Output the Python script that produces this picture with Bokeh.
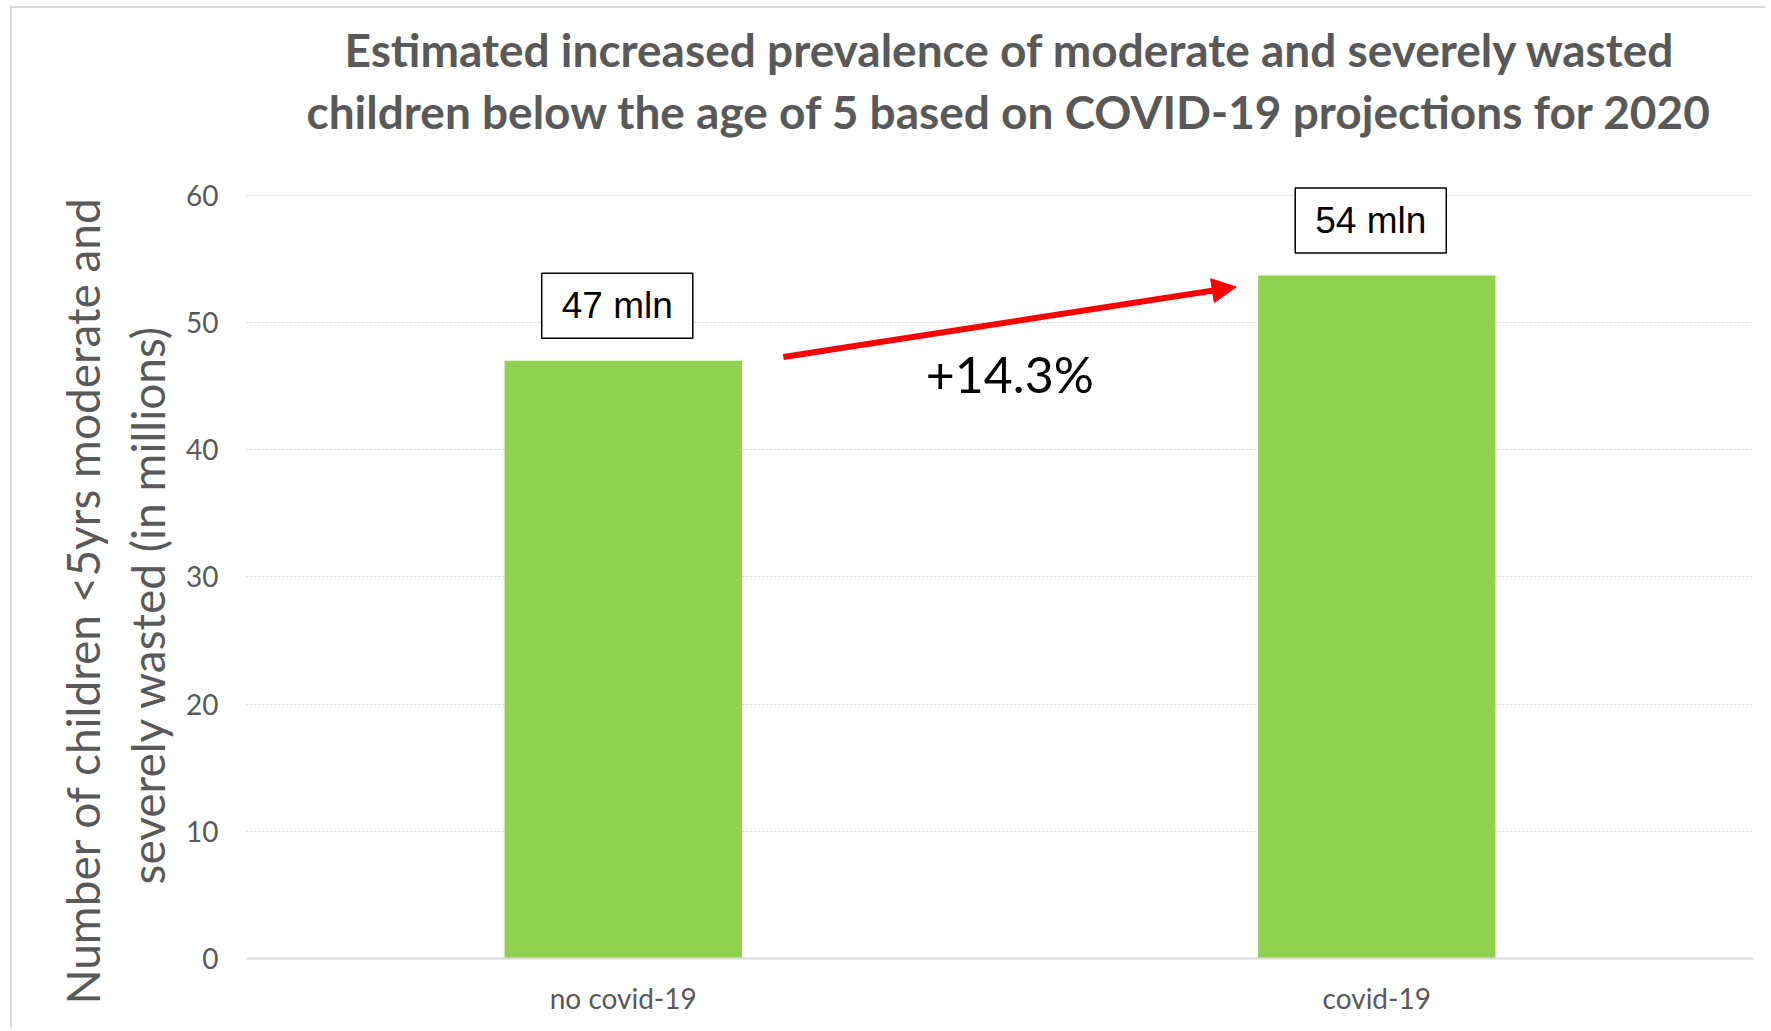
import math
from bokeh.plotting import figure
from bokeh.models import (Range1d, FactorRange, Label, Arrow, NormalHead, Title,
                          FixedTicker)
from bokeh.embed import file_html
from bokeh.resources import INLINE

# ---- data ----
categories = ["no covid-19", "covid-19"]
values = [47.0, 53.7]
value_labels = ["47 mln", "54 mln"]
y_ticks = [0, 10, 20, 30, 40, 50, 60]
change_label = "+14.3%"
title_lines = ["Estimated increased prevalence of moderate and severely wasted",
               "children below the age of 5 based on COVID-19 projections for 2020"]
ytitle_lines = ["Number of children <5yrs moderate and",
                "severely wasted (in millions)"]

GRAY = "#595959"
GREEN = "#92D050"
FONT = "Lato"

W, H = 1765, 1028
p = figure(x_range=FactorRange(*categories, range_padding=0),
           y_range=Range1d(0, 60.7),
           width=W, height=H, output_backend="svg", toolbar_location=None,
           min_border_left=246, min_border_right=12,
           min_border_top=186, min_border_bottom=70)
p.title = None
p.outline_line_color = None
p.border_fill_alpha = 0
p.styles = {
    "background": ("linear-gradient(#d9d9d9, #d9d9d9) 10px 6px / 2px 100% no-repeat, "
                   "linear-gradient(#d9d9d9, #d9d9d9) 10px 6px / 100% 2px no-repeat, "
                   "white"),
}

bar_width = 0.315
p.vbar(x=categories, top=values, width=bar_width, color=GREEN, line_color=None)

# grid
p.xgrid.grid_line_color = None
p.ygrid.grid_line_color = "#d4d4d4"
p.ygrid.grid_line_dash = "2 2"
p.ygrid.grid_line_width = 1
p.ygrid.ticker = FixedTicker(ticks=y_ticks)

# y axis
p.yaxis.ticker = FixedTicker(ticks=y_ticks)
p.yaxis.axis_line_color = None
p.yaxis.major_tick_line_color = None
p.yaxis.minor_tick_line_color = None
p.yaxis.major_tick_out = 0
p.yaxis.major_tick_in = 0
p.yaxis.major_label_standoff = 28
p.yaxis.major_label_text_font = FONT
p.yaxis.major_label_text_font_size = "28px"
p.yaxis.major_label_text_color = GRAY

# x axis
p.xaxis.axis_line_color = "#d9d9d9"
p.xaxis.axis_line_width = 2
p.xaxis.major_tick_line_color = None
p.xaxis.major_tick_out = 0
p.xaxis.major_tick_in = 0
p.xaxis.major_label_standoff = 22
p.xaxis.major_label_text_font = FONT
p.xaxis.major_label_text_font_size = "28px"
p.xaxis.major_label_text_color = GRAY

# titles above (added nearest-first): spacer, line 2, line 1
p.add_layout(Title(text=" ", text_font_size="12px", standoff=28), "above")
p.add_layout(Title(text=title_lines[1], align="left", offset=60, text_font=FONT,
                   text_font_size="46px", text_font_style="bold",
                   text_color=GRAY, standoff=8), "above")
p.add_layout(Title(text=title_lines[0], align="left", offset=98, text_font=FONT,
                   text_font_size="46px", text_font_style="bold",
                   text_color=GRAY, standoff=2), "above")

# y axis title: two rotated titles on the left (nearest-first)
p.add_layout(Title(text=ytitle_lines[1], align="left", offset=74, text_font=FONT,
                   text_font_size="46px", text_font_style="normal",
                   text_color=GRAY, standoff=17), "left")
p.add_layout(Title(text=ytitle_lines[0], align="left", offset=-46, text_font=FONT,
                   text_font_size="46px", text_font_style="normal",
                   text_color=GRAY, standoff=0), "left")

# value boxes
for i, (v, t) in enumerate(zip(values, value_labels)):
    p.add_layout(Label(x=i + 0.5, y=v, x_offset=-6, y_offset=55, text=t,
                       text_align="center", text_baseline="middle",
                       text_font="Liberation Sans", text_font_size="37px",
                       text_color="black",
                       background_fill_color="white",
                       border_line_color="black", border_line_width=1.5,
                       padding=dict(left=20, right=20, top=12, bottom=12)))

# arrow between bars
x_start = 0.5 + bar_width / 2 + 0.055
x_end = 1.5 - bar_width / 2 - 0.029
y_start = values[0] + 0.3
y_end = values[1] - 0.9
p.add_layout(Arrow(end=NormalHead(size=24, fill_color="red", line_color="red"),
                   x_start=x_start, y_start=y_start, x_end=x_end, y_end=y_end,
                   line_color="red", line_width=6))

p.add_layout(Label(x=(x_start + x_end) / 2, y=(y_start + y_end) / 2, y_offset=-52,
                   text=change_label, text_align="center", text_baseline="middle",
                   text_font=FONT, text_font_size="50px", text_color="black"))

open("out.html", "w").write(file_html(p, INLINE))
